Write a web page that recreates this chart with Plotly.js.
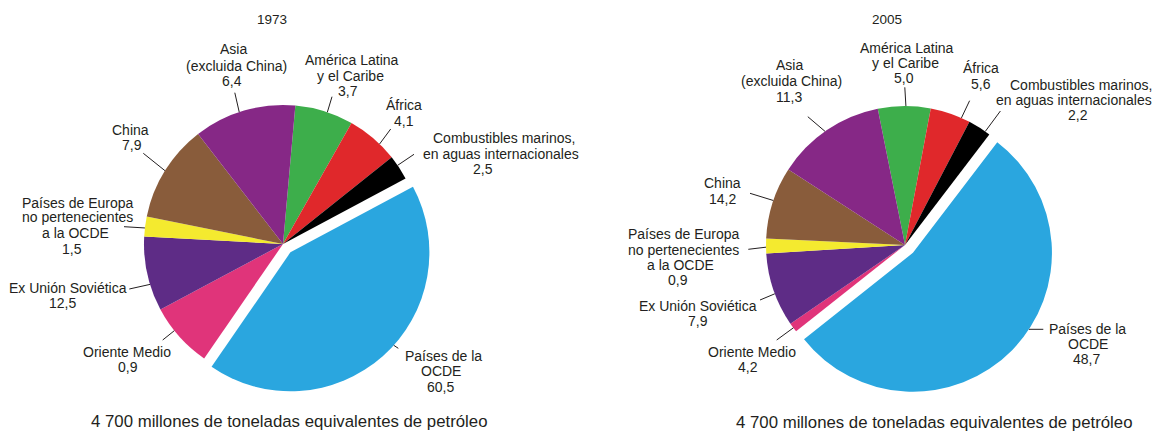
<!DOCTYPE html>
<html><head><meta charset="utf-8">
<script src="https://cdn.plot.ly/plotly-3.0.1.min.js"></script>
<style>html,body{margin:0;padding:0;background:#fff}</style>
</head><body><div id="chart" style="width:1154px;height:432px"></div>
<script>
// ---------------- DATA ----------------
const regions = [
  "América Latina\ny el Caribe",
  "África",
  "Combustibles marinos,\nen aguas internacionales",
  "Países de la\nOCDE",
  "Oriente Medio",
  "Ex Unión Soviética",
  "Países de Europa\nno pertenecientes\na la OCDE",
  "China",
  "Asia\n(excluida China)"
];
const years = ["1973", "2005"];
// values printed on the labels (%)
const printed1973 = [3.7, 4.1, 2.5, 60.5, 0.9, 12.5, 1.5, 7.9, 6.4];
const printed2005 = [5.0, 5.6, 2.2, 48.7, 4.2, 7.9, 0.9, 14.2, 11.3];
// slice sizes as drawn in the picture (%)
const drawn1973 = [6.8, 6.1, 2.9, 42.5, 7.6, 8.7, 2.3, 11.4, 11.9];
const drawn2005 = [6.1, 4.7, 2.7, 53.9, 1.1, 8.6, 1.7, 8.4, 12.7];
const caption = "4 700 millones de toneladas equivalentes de petróleo";

// ---------------- STYLE / LAYOUT ----------------
const W = 1154, H = 432;
const colors = ["#3dae4b", "#e0282b", "#000000", "#2aa6df", "#e0347a",
                "#5e2c86", "#f4ea2f", "#895c3b", "#862886"];
const pulls = [0, 0, 0, 0.08, 0, 0, 0, 0, 0];
const textColor = "#231f20";
const fontFam = "Liberation Sans, Arial, Helvetica, sans-serif";

const pieGeo = [
  {cx: 283, cy: 244, r: 139, rotation: 5.1,  title: [272, 19], cap: [289.5, 421]},
  {cx: 905, cy: 245, r: 139, rotation: -11.3, title: [887, 19], cap: [934, 422]}
];
// label line centres (px) per region, per pie
const labelPos = [
  [
    [[352,60],[350,76],[348,90.7]],
    [[404.4,105.3],[403.7,120.7]],
    [[503.7,137.7],[500.7,154],[483.3,168.7]],
    [[443.3,356],[441,370.7],[440.7,387.3]],
    [[127.3,352.3],[128.3,367.3]],
    [[67.7,288.3],[62.3,303.3]],
    [[77.7,202.7],[77.3,217.3],[75.3,232.7],[71.7,249]],
    [[130.4,130],[131.5,145.3]],
    [[233,49.3],[236,65.7],[232,81]]
  ],
  [
    [[906.7,47.7],[905.2,63.3],[904.4,77.7]],
    [[981.1,68.3],[980.7,84.3]],
    [[1081,85],[1074,100],[1078,115]],
    [[1087.7,329.3],[1087.7,344],[1086,359.3]],
    [[751.7,351.7],[748.3,366.7]],
    [[698,305.7],[698.3,320.7]],
    [[683.8,234],[683,250],[680.8,265],[677.6,280]],
    [[722.3,183.3],[722.3,199.3]],
    [[789.3,65],[791.9,81],[788.5,96.7]]
  ]
];
// leader lines: [outer end, direction point toward the pie] (px)
const leaderPos = [
  [
    [[332,96.7],[328,110]],
    [[390.7,129],[379.6,144]],
    [[414,154.3],[395.6,166.7]],
    [[398.3,348.3],[386.7,340.7]],
    [[162.7,340],[174.3,330.7]],
    [[129.3,289],[147.3,285]],
    [[124,226.7],[140.7,227.7]],
    [[143.3,153.3],[160,166.7]],
    [[234.8,92.7],[238,106.7]]
  ],
  [
    [[904.8,87.3],[905.6,100.7]],
    [[969.6,100.7],[964.1,112.3]],
    [[1000.4,111],[989.3,126]],
    [[1043.3,329.3],[1026,329.3]],
    [[776.7,340],[792.7,328.3]],
    [[760,300],[776,293.3]],
    [[748.3,249.3],[765,247.3]],
    [[750,193.3],[771.7,200]],
    [[807.8,116.7],[822.6,129.3]]
  ]
];

// ---------------- BUILD ----------------
const drawnSets = [drawn1973, drawn2005];
const printedSets = [printed1973, printed2005];
const fmt = v => v.toFixed(1).replace(".", ",");
const px = x => x / W, py = y => 1 - y / H;

const traces = [], annotations = [], shapes = [];

pieGeo.forEach((g, p) => {
  const vals = drawnSets[p];
  const maxPull = Math.max(...pulls);
  const half = g.r * (1 + maxPull);
  traces.push({
    type: "pie",
    values: vals,
    labels: regions.map(s => s.replace(/\n/g, " ")),
    marker: {colors: colors, line: {width: 0}},
    pull: pulls,
    sort: false,
    direction: "clockwise",
    rotation: g.rotation,
    textinfo: "none",
    hoverinfo: "label+percent",
    showlegend: false,
    domain: {x: [(g.cx - half) / W, (g.cx + half) / W],
             y: [1 - (g.cy + half) / H, 1 - (g.cy - half) / H]}
  });

  // slice centres (accounting for pull) to end leader lines at the rim
  const total = vals.reduce((a, b) => a + b, 0);
  let ang = g.rotation;
  vals.forEach((v, i) => {
    const span = v / total * 360;
    const mid = (ang + span / 2) * Math.PI / 180;
    ang += span;
    const sh = pulls[i] * g.r;
    const c = [g.cx + sh * Math.sin(mid), g.cy - sh * Math.cos(mid)];
    const [O, I] = leaderPos[p][i];
    let dx = I[0] - O[0], dy = I[1] - O[1];
    const L = Math.hypot(dx, dy); dx /= L; dy /= L;
    const ox = O[0] - c[0], oy = O[1] - c[1];
    const b = dx * ox + dy * oy, cc = ox * ox + oy * oy - g.r * g.r;
    const disc = b * b - cc;
    let E = I;
    if (cc > 0 && disc >= 0) {
      const t = -b - Math.sqrt(disc);
      E = [O[0] + t * dx, O[1] + t * dy];
    }
    shapes.push({type: "line", xref: "paper", yref: "paper",
      x0: px(O[0]), y0: py(O[1]), x1: px(E[0]), y1: py(E[1]),
      line: {color: textColor, width: 1}});

    const lines = regions[i].split("\n").concat([fmt(printedSets[p][i])]);
    lines.forEach((t, k) => {
      const pos = labelPos[p][i][k];
      annotations.push({text: t, x: px(pos[0]), y: py(pos[1]), xref: "paper", yref: "paper",
        xanchor: "center", yanchor: "middle", showarrow: false, borderpad: 0,
        font: {family: fontFam, size: 14, color: textColor}});
    });
  });

  annotations.push({text: years[p], x: px(g.title[0]), y: py(g.title[1]), xref: "paper", yref: "paper",
    xanchor: "center", yanchor: "middle", showarrow: false, borderpad: 0,
    font: {family: fontFam, size: 13.5, color: textColor}});
  annotations.push({text: caption, x: px(g.cap[0]), y: py(g.cap[1]), xref: "paper", yref: "paper",
    xanchor: "center", yanchor: "middle", showarrow: false, borderpad: 0,
    font: {family: fontFam, size: 16.8, color: textColor}});
});

Plotly.newPlot("chart", traces, {
  width: W, height: H,
  margin: {l: 0, r: 0, t: 0, b: 0},
  paper_bgcolor: "#ffffff",
  annotations: annotations,
  shapes: shapes,
  showlegend: false
}, {displayModeBar: false, staticPlot: true});
</script>
</body></html>
